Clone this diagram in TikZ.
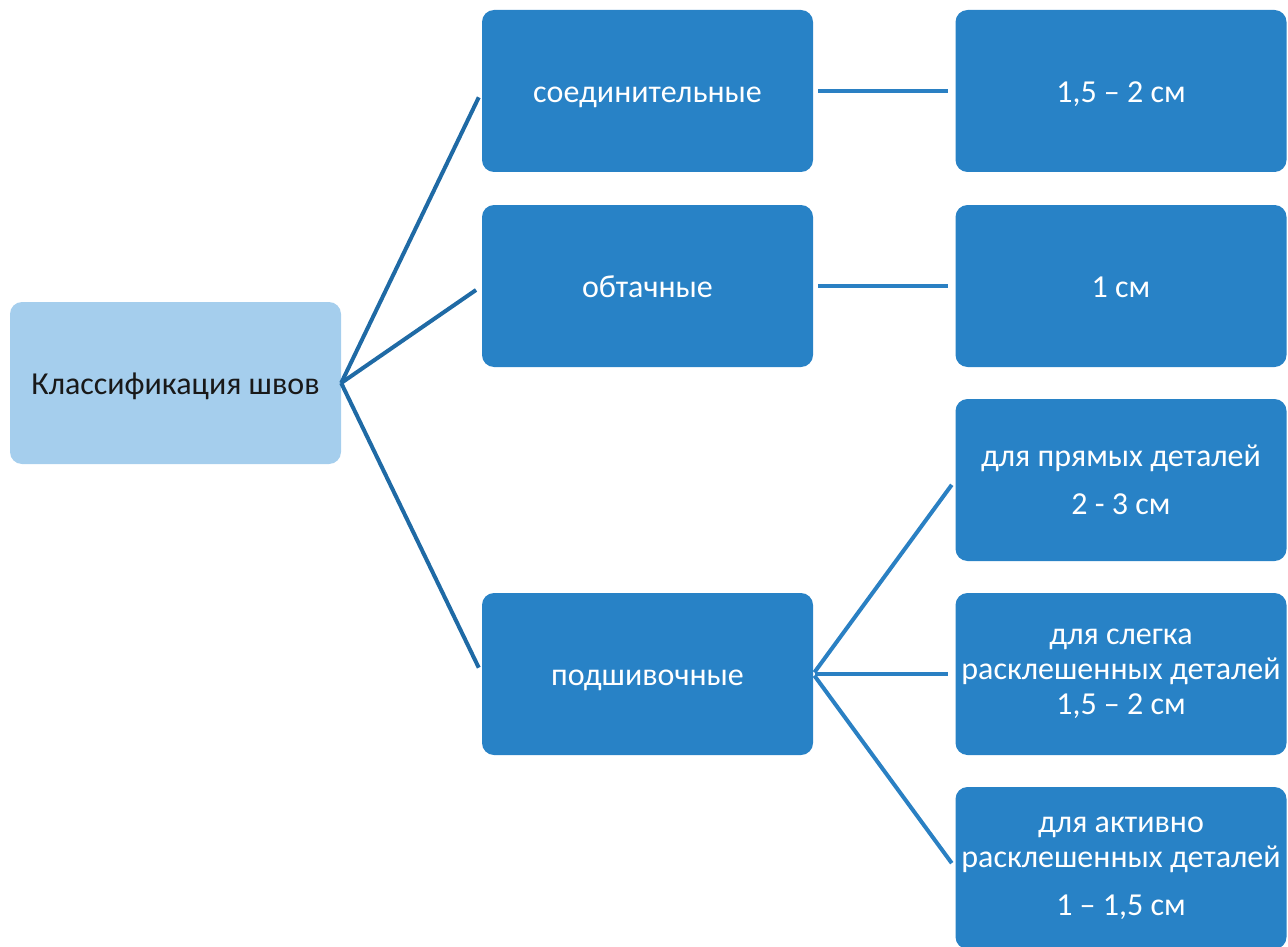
\documentclass[tikz,border=0pt]{standalone}
\usepackage{fontspec}
\setmainfont{Carlito}
\definecolor{boxblue}{RGB}{40,130,198}
\definecolor{lightbox}{RGB}{165,206,237}
\definecolor{darkline}{RGB}{31,106,165}
\definecolor{lineblue}{RGB}{42,128,195}
\begin{document}
\begin{tikzpicture}[x=1pt,y=-1pt,
  box/.style={rectangle,rounded corners=12pt,fill=boxblue,text=white,
    minimum width=331pt,minimum height=162pt,inner sep=0pt,align=center,
    font=\fontsize{32}{35}\selectfont},
  onebox/.style={box,text depth=0pt,text height=23pt},
  rootbox/.style={onebox,fill=lightbox,text=black!90},
  lconn/.style={draw=darkline,line width=4pt},
  rconn/.style={draw=lineblue,line width=4pt}]
\useasboundingbox (0,0) rectangle (1288,947);
\begin{scope}
\clip (0,0) rectangle (1288,947);
\node[rootbox] (root) at (175.5,383) {Классификация швов};
\node[onebox] (m1) at (647.5,91) {соединительные};
\node[onebox] (m2) at (647.5,286) {обтачные};
\node[onebox] (m3) at (647.5,674) {подшивочные};
\node[onebox] (r1) at (1121,91) {1,5 – 2 см};
\node[onebox] (r2) at (1121,286) {1 см};
\node[box] (r3) at (1121,480) {для прямых деталей\\[13pt]2 - 3 см};
\node[box] (r4) at (1121,674) {для слегка\\расклешенных деталей\\1,5 – 2 см};
\node[box] (r5) at (1121,868) {для активно\\расклешенных деталей\\[13pt]1 – 1,5 см};
\end{scope}
\draw[lconn,shorten >=7pt] (root.east) -- (m1.west);
\draw[lconn,shorten >=7pt] (root.east) -- (m2.west);
\draw[lconn,shorten >=7pt] (root.east) -- (m3.west);
\draw[rconn,shorten <=5pt,shorten >=7pt] (m1.east) -- (r1.west);
\draw[rconn,shorten <=5pt,shorten >=7pt] (m2.east) -- (r2.west);
\draw[rconn,shorten <=2pt,shorten >=6pt] (m3.east) -- (r3.west);
\draw[rconn,shorten <=2pt,shorten >=7pt] (m3.east) -- (r4.west);
\draw[rconn,shorten <=2pt,shorten >=6pt] (m3.east) -- (r5.west);
\end{tikzpicture}
\end{document}
